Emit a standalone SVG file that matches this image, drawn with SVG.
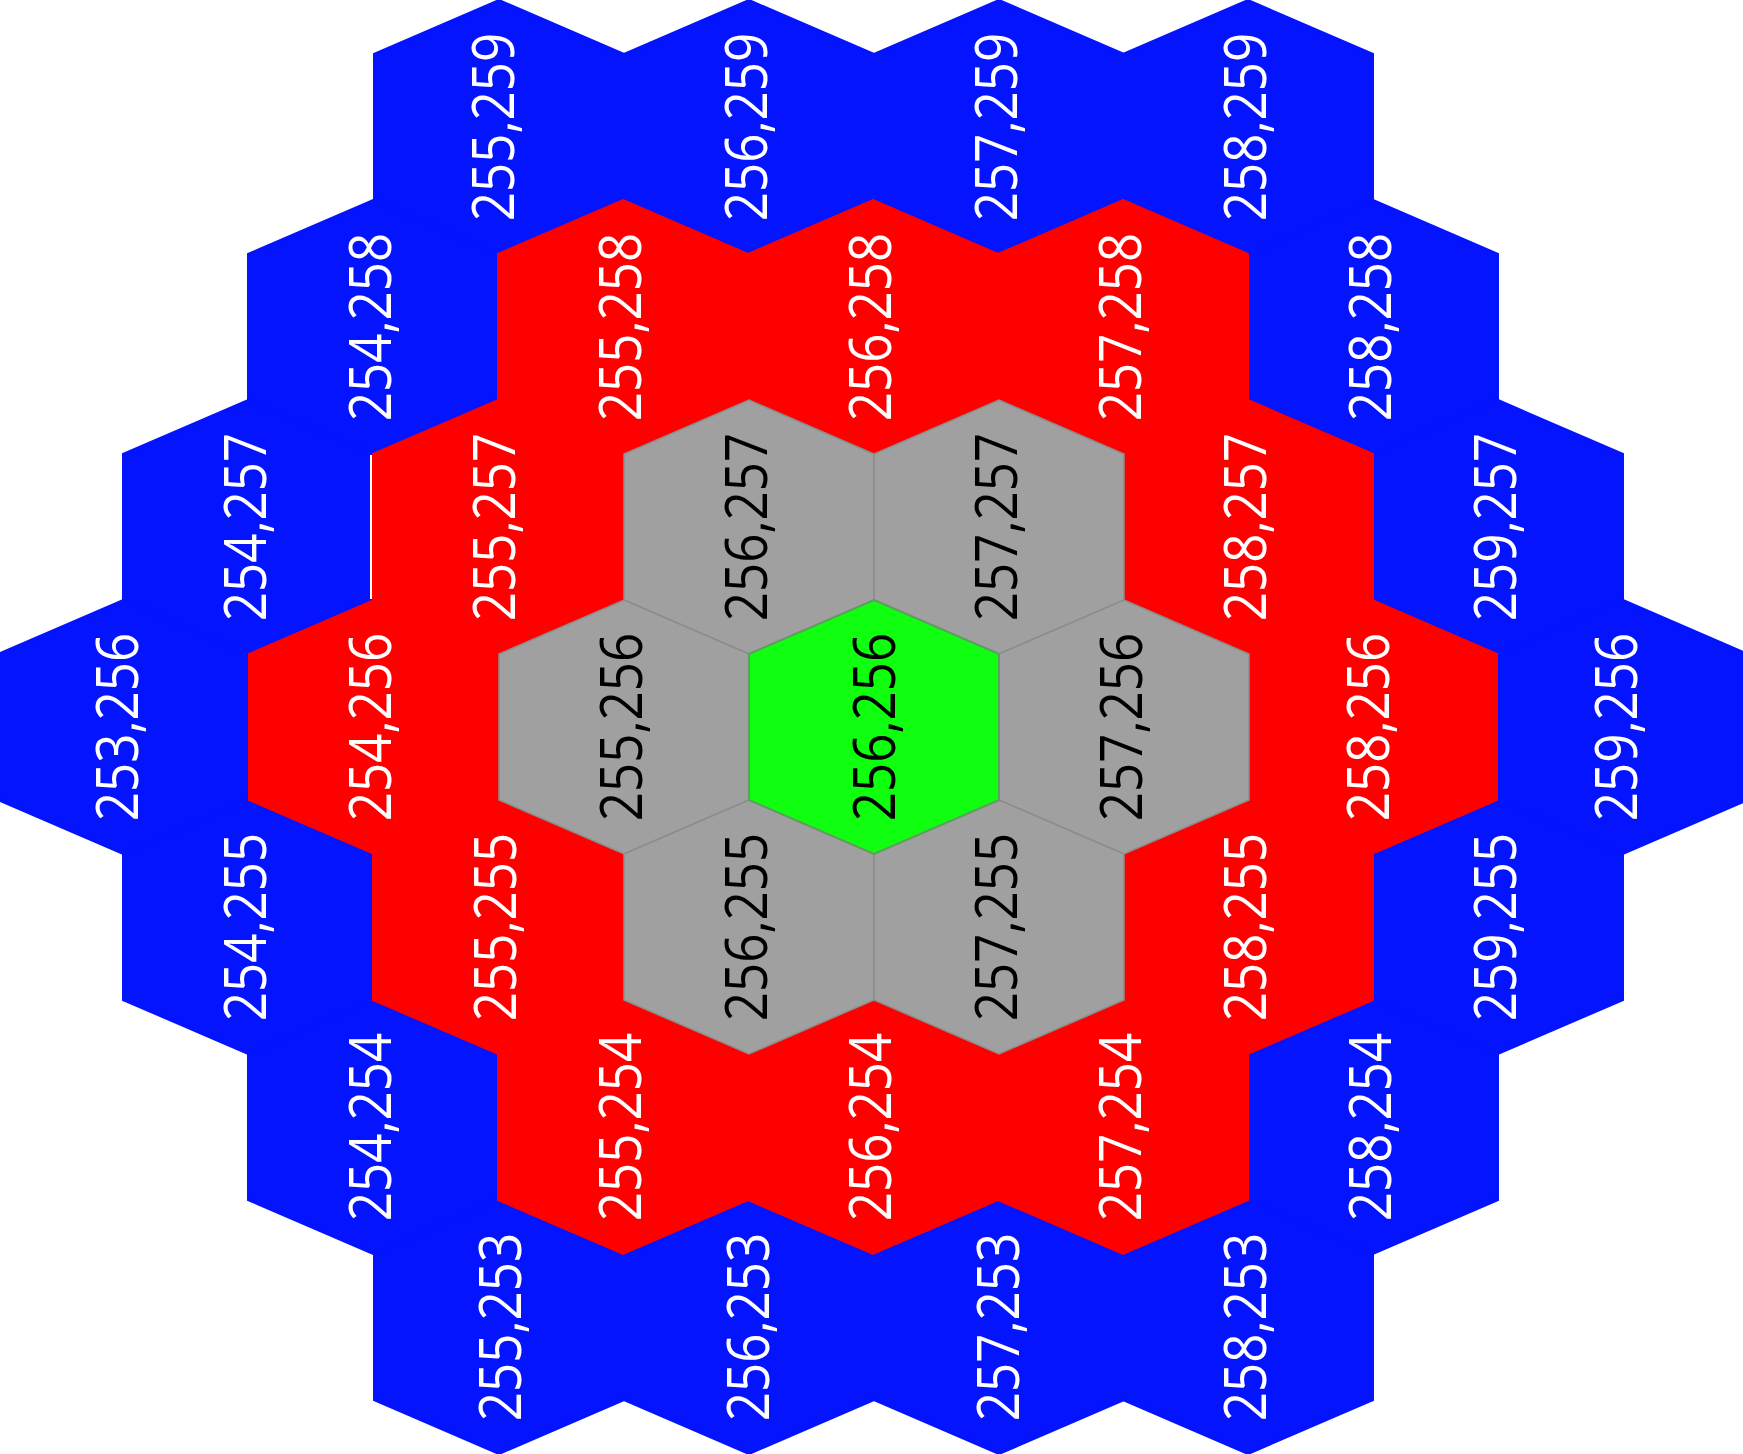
<svg xmlns="http://www.w3.org/2000/svg" width="1743" height="1454" viewBox="0 0 1743 1454">
<style>
.b{fill:#0514ff;stroke:#0514ff;stroke-width:2}
.r{fill:#ff0000;stroke:#ff0000;stroke-width:2}
.g{fill:#a0a0a0;stroke:#8c8c8c;stroke-width:1.5}
.c{fill:#10ff10;stroke:#5e9e5e;stroke-width:2}
text{font-family:"Open Sans","Noto Sans",sans-serif;font-size:58px;text-anchor:middle}
.tw{fill:#ffffff}
.tk{fill:#000000}
</style>
<defs>
<polygon id="hex" points="0,-127 125,-73 125,73 0,127 -125,73 -125,-73"/>
</defs>
<rect width="1743" height="1454" fill="#ffffff"/>
<g id="ring-blue">
<g id="h255_259" transform="translate(499,127)"><use href="#hex" class="b"/><text class="tw" transform="translate(-6,0) scale(1,0.88) rotate(-90)" y="21">255,259</text></g>
<g id="h256_259" transform="translate(749,127)"><use href="#hex" class="b"/><text class="tw" transform="translate(-3,0) scale(1,0.88) rotate(-90)" y="21">256,259</text></g>
<g id="h257_259" transform="translate(999,127)"><use href="#hex" class="b"/><text class="tw" transform="translate(-3,0) scale(1,0.88) rotate(-90)" y="21">257,259</text></g>
<g id="h258_259" transform="translate(1248,127)"><use href="#hex" class="b"/><text class="tw" transform="translate(-3,0) scale(1,0.88) rotate(-90)" y="21">258,259</text></g>
<g id="h254_258" transform="translate(373,327)"><use href="#hex" class="b"/><text class="tw" transform="translate(-3,0) scale(1,0.88) rotate(-90)" y="21">254,258</text></g>
<g id="h258_258" transform="translate(1373,327)"><use href="#hex" class="b"/><text class="tw" transform="translate(-3,0) scale(1,0.88) rotate(-90)" y="21">258,258</text></g>
<g id="h254_257" transform="translate(248,527)"><polygon points="0,-127 125,-73 121,-73 121,73 125,73 0,127 -125,73 -125,-73" class="b"/><text class="tw" transform="translate(-3,0) scale(1,0.88) rotate(-90)" y="21">254,257</text></g>
<g id="h259_257" transform="translate(1498,527)"><use href="#hex" class="b"/><text class="tw" transform="translate(-3,0) scale(1,0.88) rotate(-90)" y="21">259,257</text></g>
<g id="h253_256" transform="translate(123,727)"><use href="#hex" class="b"/><text class="tw" transform="translate(-6,0) scale(1,0.88) rotate(-90)" y="21">253,256</text></g>
<g id="h259_256" transform="translate(1623,727)"><use href="#hex" class="b"/><text class="tw" transform="translate(-7,0) scale(1,0.88) rotate(-90)" y="21">259,256</text></g>
<g id="h254_255" transform="translate(248,927)"><use href="#hex" class="b"/><text class="tw" transform="translate(-3,0) scale(1,0.88) rotate(-90)" y="21">254,255</text></g>
<g id="h259_255" transform="translate(1498,927)"><use href="#hex" class="b"/><text class="tw" transform="translate(-3,0) scale(1,0.88) rotate(-90)" y="21">259,255</text></g>
<g id="h254_254" transform="translate(373,1127)"><use href="#hex" class="b"/><text class="tw" transform="translate(-3,0) scale(1,0.88) rotate(-90)" y="21">254,254</text></g>
<g id="h258_254" transform="translate(1373,1127)"><use href="#hex" class="b"/><text class="tw" transform="translate(-3,0) scale(1,0.88) rotate(-90)" y="21">258,254</text></g>
<g id="h255_253" transform="translate(499,1327)"><use href="#hex" class="b"/><text class="tw" transform="translate(1,0) scale(1,0.88) rotate(-90)" y="21">255,253</text></g>
<g id="h256_253" transform="translate(749,1327)"><use href="#hex" class="b"/><text class="tw" transform="translate(-1,0) scale(1,0.88) rotate(-90)" y="21">256,253</text></g>
<g id="h257_253" transform="translate(999,1327)"><use href="#hex" class="b"/><text class="tw" transform="translate(-1,0) scale(1,0.88) rotate(-90)" y="21">257,253</text></g>
<g id="h258_253" transform="translate(1248,1327)"><use href="#hex" class="b"/><text class="tw" transform="translate(-3,0) scale(1,0.88) rotate(-90)" y="21">258,253</text></g>
</g>
<g id="ring-red">
<g id="h255_258" transform="translate(623,327)"><use href="#hex" class="r"/><text class="tw" transform="translate(-3,0) scale(1,0.88) rotate(-90)" y="21">255,258</text></g>
<g id="h256_258" transform="translate(873,327)"><use href="#hex" class="r"/><text class="tw" transform="translate(-3,0) scale(1,0.88) rotate(-90)" y="21">256,258</text></g>
<g id="h257_258" transform="translate(1123,327)"><use href="#hex" class="r"/><text class="tw" transform="translate(-3,0) scale(1,0.88) rotate(-90)" y="21">257,258</text></g>
<g id="h255_257" transform="translate(498,527)"><use href="#hex" class="r"/><text class="tw" transform="translate(-4,0) scale(1,0.88) rotate(-90)" y="21">255,257</text></g>
<g id="h258_257" transform="translate(1248,527)"><use href="#hex" class="r"/><text class="tw" transform="translate(-3,0) scale(1,0.88) rotate(-90)" y="21">258,257</text></g>
<g id="h254_256" transform="translate(374,727)"><use href="#hex" class="r"/><text class="tw" transform="translate(-4,0) scale(1,0.88) rotate(-90)" y="21">254,256</text></g>
<g id="h258_256" transform="translate(1372,727)"><use href="#hex" class="r"/><text class="tw" transform="translate(-4,0) scale(1,0.88) rotate(-90)" y="21">258,256</text></g>
<g id="h255_255" transform="translate(498,927)"><use href="#hex" class="r"/><text class="tw" transform="translate(-3,0) scale(1,0.88) rotate(-90)" y="21">255,255</text></g>
<g id="h258_255" transform="translate(1248,927)"><use href="#hex" class="r"/><text class="tw" transform="translate(-3,0) scale(1,0.88) rotate(-90)" y="21">258,255</text></g>
<g id="h255_254" transform="translate(623,1127)"><use href="#hex" class="r"/><text class="tw" transform="translate(-3,0) scale(1,0.88) rotate(-90)" y="21">255,254</text></g>
<g id="h256_254" transform="translate(873,1127)"><use href="#hex" class="r"/><text class="tw" transform="translate(-3,0) scale(1,0.88) rotate(-90)" y="21">256,254</text></g>
<g id="h257_254" transform="translate(1123,1127)"><use href="#hex" class="r"/><text class="tw" transform="translate(-3,0) scale(1,0.88) rotate(-90)" y="21">257,254</text></g>
</g>
<g id="ring-gray">
<g id="h256_257" transform="translate(749,527)"><use href="#hex" class="g"/><text class="tk" transform="translate(-3,0) scale(1,0.88) rotate(-90)" y="21">256,257</text></g>
<g id="h257_257" transform="translate(999,527)"><use href="#hex" class="g"/><text class="tk" transform="translate(-3,0) scale(1,0.88) rotate(-90)" y="21">257,257</text></g>
<g id="h255_256" transform="translate(624,727)"><use href="#hex" class="g"/><text class="tk" transform="translate(-3,0) scale(1,0.88) rotate(-90)" y="21">255,256</text></g>
<g id="h257_256" transform="translate(1124,727)"><use href="#hex" class="g"/><text class="tk" transform="translate(-3,0) scale(1,0.88) rotate(-90)" y="21">257,256</text></g>
<g id="h256_255" transform="translate(749,927)"><use href="#hex" class="g"/><text class="tk" transform="translate(-3,0) scale(1,0.88) rotate(-90)" y="21">256,255</text></g>
<g id="h257_255" transform="translate(999,927)"><use href="#hex" class="g"/><text class="tk" transform="translate(-3,0) scale(1,0.88) rotate(-90)" y="21">257,255</text></g>
</g>
<g id="h256_256" transform="translate(874,727)"><use href="#hex" class="c"/><text class="tk" transform="translate(0,0) scale(1,0.88) rotate(-90)" y="21">256,256</text></g>
</svg>
